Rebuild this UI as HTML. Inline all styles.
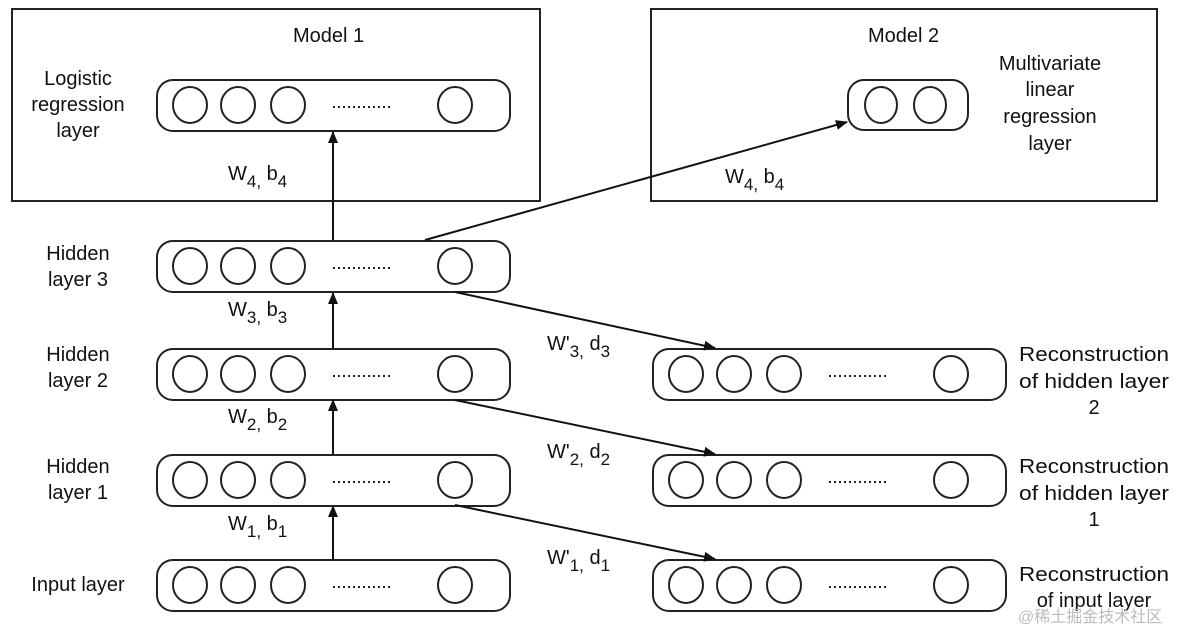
<!DOCTYPE html>
<html><head><style>body{margin:0;background:#fff}</style></head><body>
<svg width="1185" height="632" xmlns="http://www.w3.org/2000/svg" font-family="Liberation Sans, sans-serif" font-size="20" fill="#111">
<defs>
<marker id="a" markerWidth="12" markerHeight="10" refX="11" refY="5" orient="auto" markerUnits="userSpaceOnUse"><path d="M0,0 L12,5 L0,10 z" fill="#111"/></marker>
<g id="L" fill="none" stroke="#222" stroke-width="2">
<rect x="0" y="-25" width="353" height="51" rx="16"/>
<ellipse cx="33" cy="0" rx="17" ry="18"/><ellipse cx="81" cy="0" rx="17" ry="18"/><ellipse cx="131" cy="0" rx="17" ry="18"/><ellipse cx="298" cy="0" rx="17" ry="18"/>
<line x1="176" y1="2" x2="234" y2="2" stroke-dasharray="2,3"/>
</g>
</defs>
<g fill="none" stroke="#222" stroke-width="2">
<rect x="12" y="9" width="528" height="192"/>
<rect x="651" y="9" width="506" height="192"/>
<rect x="848" y="80" width="120" height="50" rx="16"/>
<ellipse cx="881" cy="105" rx="16" ry="18"/><ellipse cx="930" cy="105" rx="16" ry="18"/>
</g>
<use href="#L" x="157" y="105"/>
<use href="#L" x="157" y="266"/>
<use href="#L" x="157" y="374"/>
<use href="#L" x="157" y="480"/>
<use href="#L" x="157" y="585"/>
<use href="#L" x="653" y="374"/>
<use href="#L" x="653" y="480"/>
<use href="#L" x="653" y="585"/>
<g stroke="#111" stroke-width="2" marker-end="url(#a)">
<line x1="333" y1="240" x2="333" y2="132"/>
<line x1="333" y1="348" x2="333" y2="293"/>
<line x1="333" y1="454" x2="333" y2="400"/>
<line x1="333" y1="559" x2="333" y2="506"/>
<line x1="425" y1="240" x2="847" y2="122"/>
<line x1="455" y1="292" x2="715" y2="348"/>
<line x1="455" y1="400" x2="715" y2="454"/>
<line x1="455" y1="505" x2="715" y2="559"/>
</g>
<text x="293" y="42">Model 1</text>
<text x="868" y="42">Model 2</text>
<g text-anchor="middle">
<text x="78" y="85">Logistic</text><text x="78" y="111">regression</text><text x="78" y="137">layer</text>
<text x="78" y="260">Hidden</text><text x="78" y="286">layer 3</text>
<text x="78" y="361">Hidden</text><text x="78" y="387">layer 2</text>
<text x="78" y="473">Hidden</text><text x="78" y="499">layer 1</text>
<text x="78" y="591">Input layer</text>
<text x="1050" y="70">Multivariate</text><text x="1050" y="96">linear</text><text x="1050" y="123">regression</text><text x="1050" y="150">layer</text>
<text x="1094" y="361" textLength="150" lengthAdjust="spacingAndGlyphs">Reconstruction</text><text x="1094" y="388" textLength="150" lengthAdjust="spacingAndGlyphs">of hidden layer</text><text x="1094" y="414">2</text>
<text x="1094" y="473" textLength="150" lengthAdjust="spacingAndGlyphs">Reconstruction</text><text x="1094" y="500" textLength="150" lengthAdjust="spacingAndGlyphs">of hidden layer</text><text x="1094" y="526">1</text>
<text x="1094" y="581" textLength="150" lengthAdjust="spacingAndGlyphs">Reconstruction</text><text x="1094" y="607">of input layer</text>
</g>
<text x="228" y="180">W<tspan font-size="17" dy="7">4,</tspan><tspan dy="-7"> b</tspan><tspan font-size="17" dy="7">4</tspan></text>
<text x="228" y="316">W<tspan font-size="17" dy="7">3,</tspan><tspan dy="-7"> b</tspan><tspan font-size="17" dy="7">3</tspan></text>
<text x="228" y="423">W<tspan font-size="17" dy="7">2,</tspan><tspan dy="-7"> b</tspan><tspan font-size="17" dy="7">2</tspan></text>
<text x="228" y="530">W<tspan font-size="17" dy="7">1,</tspan><tspan dy="-7"> b</tspan><tspan font-size="17" dy="7">1</tspan></text>
<text x="725" y="183">W<tspan font-size="17" dy="7">4,</tspan><tspan dy="-7"> b</tspan><tspan font-size="17" dy="7">4</tspan></text>
<text x="547" y="350">W'<tspan font-size="17" dy="7">3,</tspan><tspan dy="-7"> d</tspan><tspan font-size="17" dy="7">3</tspan></text>
<text x="547" y="458">W'<tspan font-size="17" dy="7">2,</tspan><tspan dy="-7"> d</tspan><tspan font-size="17" dy="7">2</tspan></text>
<text x="547" y="564">W'<tspan font-size="17" dy="7">1,</tspan><tspan dy="-7"> d</tspan><tspan font-size="17" dy="7">1</tspan></text>
<text x="1018" y="622" font-size="16" fill="#bbb" font-family="Liberation Sans, Noto Sans CJK SC, sans-serif">@稀土掘金技术社区</text>
</svg>
</body></html>
